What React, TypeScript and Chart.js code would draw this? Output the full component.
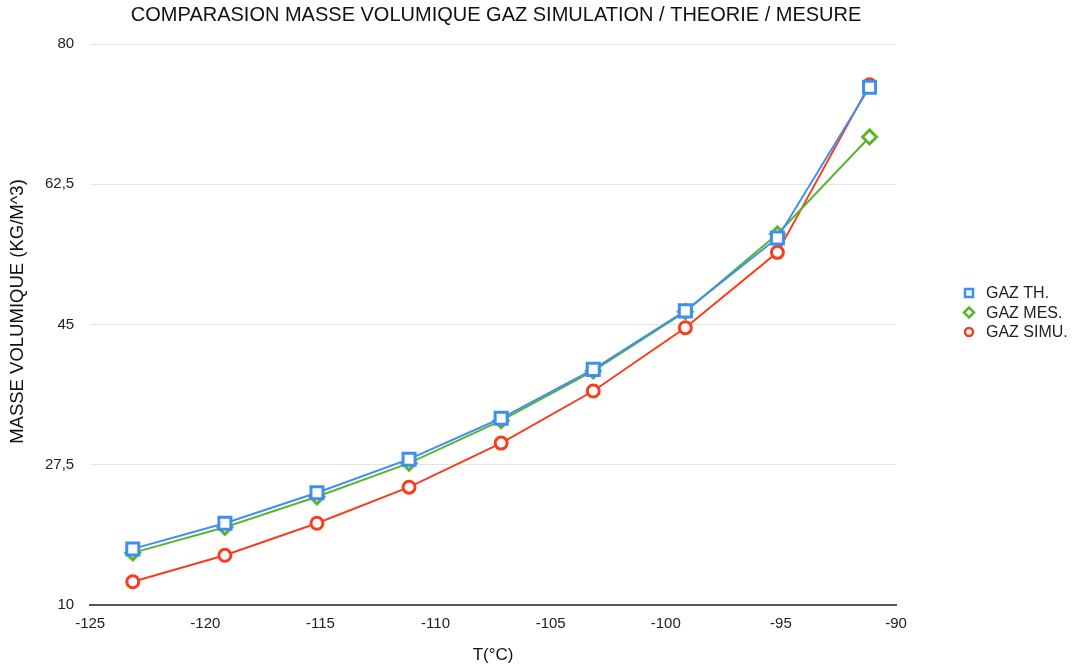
import React, { useEffect, useRef } from "react";
import { Chart, registerables } from "chart.js";

Chart.register(...registerables);

const temperatures = [-123.15, -119.15, -115.15, -111.15, -107.15, -103.15, -99.15, -95.15, -91.15];
const gazTh = [17.0, 20.2, 24.0, 28.2, 33.3, 39.4, 46.7, 55.8, 74.6];
const gazMes = [16.5, 19.7, 23.5, 27.7, 33.0, 39.2, 46.6, 56.3, 68.4];
const gazSimu = [12.9, 16.2, 20.2, 24.7, 30.2, 36.7, 44.6, 54.0, 74.9];
const yTicks = [10, 27.5, 45, 62.5, 80];
const seriesLabels = ["GAZ TH.", "GAZ MES.", "GAZ SIMU."];
const seriesColors = ["#3f8ff0", "#5bb52c", "#f83c1e"];

const title = "COMPARASION MASSE VOLUMIQUE GAZ SIMULATION / THEORIE / MESURE";
const xTitle = "T(°C)";
const yTitle = "MASSE VOLUMIQUE (KG/M^3)";
const font = "'Liberation Sans', Arial, sans-serif";

const decorations = {
  id: "decorations",
  afterDraw(chart: any) {
    const ctx = chart.ctx;
    const area = chart.chartArea;
    const cx = (area.left + area.right) / 2;
    const cy = (area.top + area.bottom) / 2;
    ctx.save();
    ctx.fillStyle = "#111";
    ctx.textAlign = "center";
    ctx.textBaseline = "middle";
    ctx.font = `20px ${font}`;
    ctx.fillText(title, cx + 3, 15);
    ctx.font = `17px ${font}`;
    ctx.fillText(xTitle, cx, 655);

    ctx.save();
    ctx.translate(18, cy - 13);
    ctx.rotate(-Math.PI / 2);
    ctx.font = `18.5px ${font}`;
    ctx.fillText(yTitle, 0, 0);
    ctx.restore();

    const x0 = area.right + 73;
    const rowH = 19.5;
    ctx.font = `16px ${font}`;
    ctx.textAlign = "left";
    chart.data.datasets.forEach((ds: any, i: number) => {
      const y = cy + (i - 1) * rowH - 12;
      ctx.lineWidth = 2.5;
      ctx.strokeStyle = ds.borderColor;
      ctx.fillStyle = "#fff";
      ctx.beginPath();
      if (ds.pointStyle === "rect") {
        ctx.rect(x0 - 4, y - 4, 8, 8);
      } else if (ds.pointStyle === "rectRot") {
        ctx.moveTo(x0, y - 5);
        ctx.lineTo(x0 + 5, y);
        ctx.lineTo(x0, y + 5);
        ctx.lineTo(x0 - 5, y);
        ctx.closePath();
      } else {
        ctx.arc(x0, y, 4, 0, Math.PI * 2);
      }
      ctx.fill();
      ctx.stroke();
      ctx.fillStyle = "#222";
      ctx.fillText(ds.label, x0 + 17, y + 1);
    });
    ctx.restore();
  },
};

export default function App() {
  const ref = useRef<HTMLCanvasElement | null>(null);
  useEffect(() => {
    if (!ref.current) return;
    const mk = (i: number, ys: number[], style: any, r: number) => ({
      label: seriesLabels[i],
      data: temperatures.map((x, k) => ({ x, y: ys[k] })),
      borderColor: seriesColors[i],
      backgroundColor: "#ffffff",
      borderWidth: 2,
      pointStyle: style,
      pointRadius: r,
      pointBorderWidth: 3,
      pointBackgroundColor: "#ffffff",
      pointBorderColor: seriesColors[i],
      tension: 0,
    });
    const chart = new Chart(ref.current, {
      type: "line",
      data: {
        datasets: [mk(0, gazTh, "rect", 8.5), mk(1, gazMes, "rectRot", 7), mk(2, gazSimu, "circle", 6)],
      },
      plugins: [decorations],
      options: {
        animation: false,
        responsive: false,
        layout: { padding: { left: 29, right: 182, top: 44, bottom: 23 } },
        plugins: {
          title: { display: false },
          legend: { display: false },
          tooltip: { enabled: false },
        },
        scales: {
          x: {
            type: "linear",
            min: -125,
            max: -90,
            ticks: { stepSize: 5, color: "#222", font: { family: font, size: 15 }, padding: 10 },
            grid: { display: false, drawTicks: false },
            border: { display: true, color: "#555", width: 2 },
          },
          y: {
            type: "linear",
            min: 10,
            max: 80,
            afterBuildTicks: (axis: any) => {
              axis.ticks = yTicks.map((v) => ({ value: v }));
            },
            ticks: {
              color: "#222",
              font: { family: font, size: 15 },
              padding: 16,
              callback: (v: any) => String(v).replace(".", ","),
            },
            grid: { color: "#e4e4e4", drawTicks: false },
            border: { display: false },
          },
        },
      },
    });
    return () => chart.destroy();
  }, []);
  return (
    <div style={{ position: "fixed", left: 0, top: 0, width: 1078, height: 666, background: "#fff" }}>
      <canvas ref={ref} width={1078} height={666} style={{ width: 1078, height: 666 }} />
    </div>
  );
}
